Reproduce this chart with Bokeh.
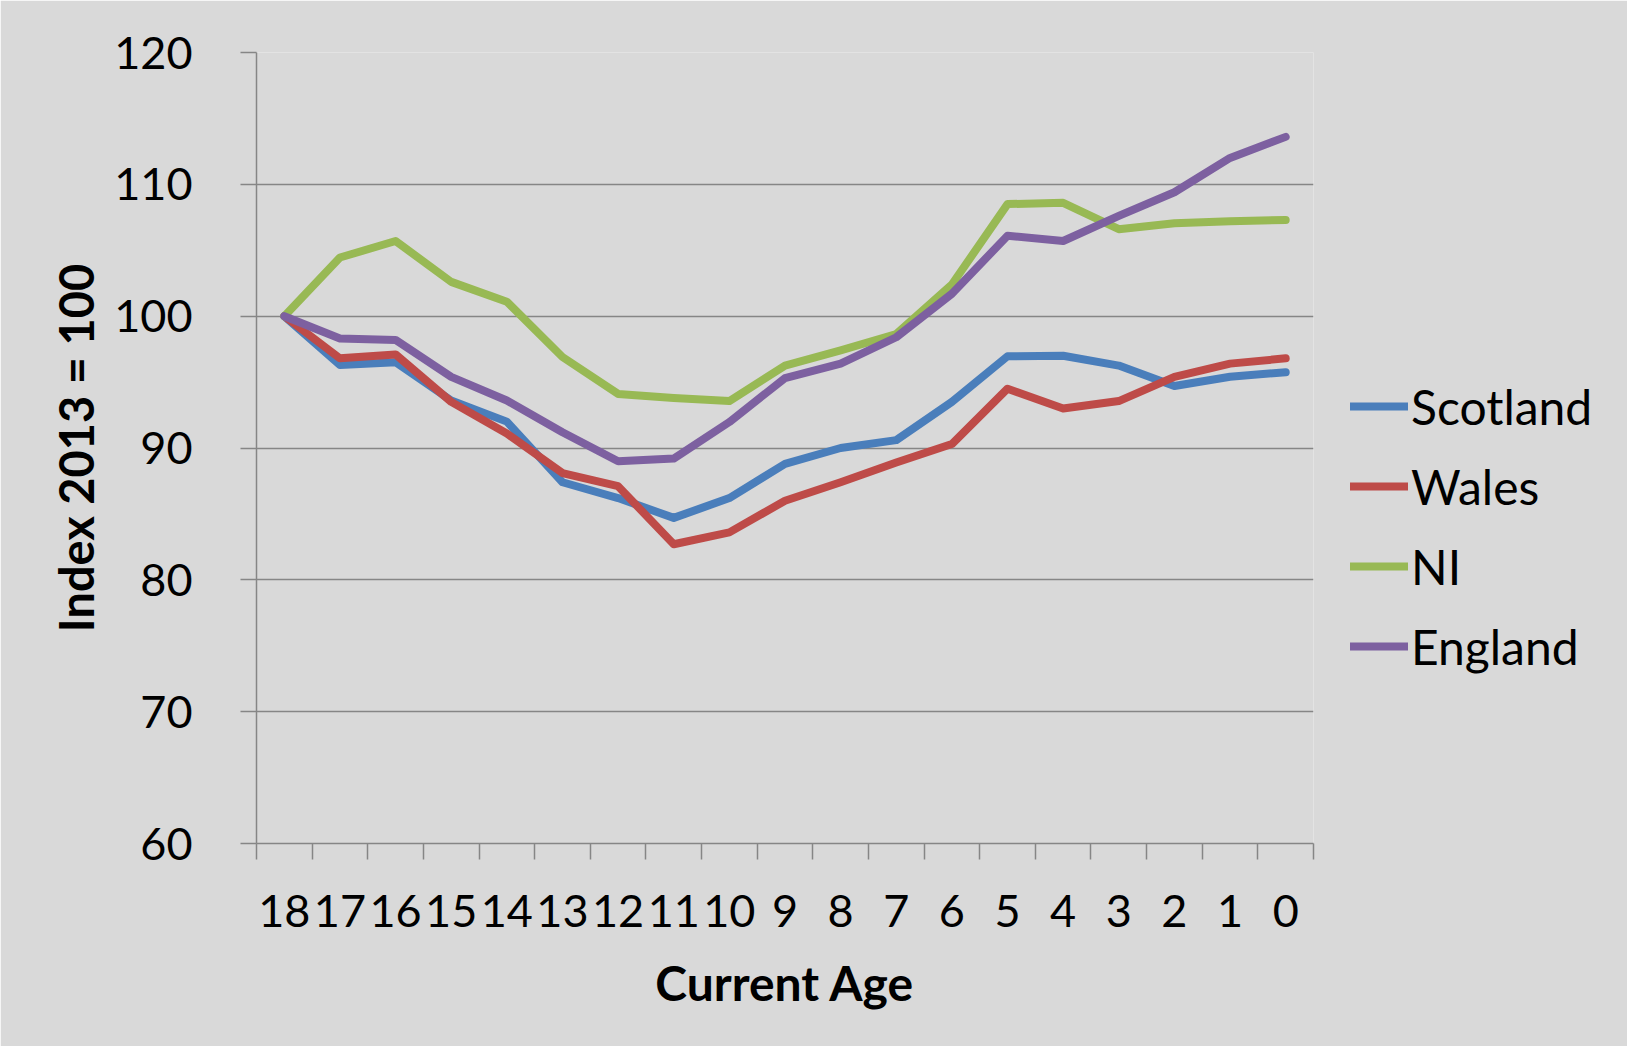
from bokeh.plotting import figure
from bokeh.models import Range1d, FixedTicker, Legend, LegendItem
from bokeh.embed import file_html
from bokeh.resources import INLINE

ages = [18, 17, 16, 15, 14, 13, 12, 11, 10, 9, 8, 7, 6, 5, 4, 3, 2, 1, 0]
scotland = [100.0, 96.3, 96.5, 93.6, 92.0, 87.4, 86.2, 84.7, 86.2, 88.8, 90.0, 90.6, 93.5, 96.96, 97.0, 96.25, 94.7, 95.4, 95.75]
wales = [100.0, 96.8, 97.1, 93.5, 91.1, 88.1, 87.1, 82.7, 83.6, 86.0, 87.4, 88.9, 90.3, 94.5, 93.0, 93.56, 95.4, 96.4, 96.8]
ni = [100.0, 104.45, 105.7, 102.6, 101.1, 96.9, 94.1, 93.8, 93.56, 96.25, 97.4, 98.65, 102.4, 108.5, 108.6, 106.6, 107.05, 107.2, 107.3]
england = [100.0, 98.3, 98.2, 95.4, 93.6, 91.2, 89.0, 89.2, 91.97, 95.3, 96.4, 98.4, 101.7, 106.1, 105.7, 107.6, 109.4, 112.0, 113.6]
series_names = ["Scotland", "Wales", "NI", "England"]
series_values = [scotland, wales, ni, england]
series_colors = ["#4a7ebb", "#be4b48", "#98b954", "#7d60a0"]
y_ticks = [60, 70, 80, 90, 100, 110, 120]

FONT = "Lato"
BG = "#d9d9d9"
GRID = "#868686"

p = figure(width=1627, height=1046, output_backend="svg", toolbar_location=None,
           x_range=Range1d(18.5, -0.5), y_range=Range1d(60, 120),
           frame_width=1057, frame_height=791,
           min_border_left=256, min_border_right=314, min_border_top=52, min_border_bottom=203)
p.background_fill_color = BG
p.border_fill_color = BG
p.outline_line_color = None

# x axis
p.xaxis.ticker = FixedTicker(ticks=ages, minor_ticks=[a + 0.5 for a in ages] + [-0.5])
p.xaxis.major_tick_out = 0
p.xaxis.major_tick_in = 0
p.xaxis.minor_tick_out = 16
p.xaxis.minor_tick_in = 0
p.xaxis.minor_tick_line_color = GRID
p.xaxis.minor_tick_line_width = 1.5
p.xaxis.axis_line_color = GRID
p.xaxis.axis_line_width = 1.5
p.xaxis.major_label_standoff = 35
p.xaxis.major_label_text_font = FONT
p.xaxis.major_label_text_font_size = "45px"
p.xaxis.major_label_text_color = "#000000"
p.xaxis.axis_label = "Current Age"
p.xaxis.axis_label_text_font = FONT
p.xaxis.axis_label_text_font_size = "48px"
p.xaxis.axis_label_text_font_style = "bold"
p.xaxis.axis_label_text_color = "#000000"
p.xaxis.axis_label_standoff = 24
p.xgrid.grid_line_color = None

# y axis
p.yaxis.ticker = FixedTicker(ticks=y_ticks)
p.yaxis.major_tick_out = 16
p.yaxis.major_tick_in = 0
p.yaxis.major_tick_line_color = GRID
p.yaxis.major_tick_line_width = 1.5
p.yaxis.minor_tick_line_color = None
p.yaxis.axis_line_color = GRID
p.yaxis.axis_line_width = 1.5
p.yaxis.major_label_standoff = 48
p.yaxis.major_label_text_font = FONT
p.yaxis.major_label_text_font_size = "45px"
p.yaxis.major_label_text_color = "#000000"
p.yaxis.axis_label = "Index 2013 = 100"
p.yaxis.axis_label_text_font = FONT
p.yaxis.axis_label_text_font_size = "47px"
p.yaxis.axis_label_text_font_style = "bold"
p.yaxis.axis_label_text_color = "#000000"
p.yaxis.axis_label_standoff = 7
p.ygrid.grid_line_color = GRID
p.ygrid.grid_line_width = 1.5

items = []
for name, vals, col in zip(series_names, series_values, series_colors):
    r = p.line(ages, vals, line_color=col, line_width=8, line_cap="round", line_join="round")
    items.append(LegendItem(label=name, renderers=[r]))

legend = Legend(items=items, location=(37, 157))
legend.background_fill_alpha = 0
legend.border_line_color = None
legend.padding = 0
legend.margin = 0
legend.spacing = 0
legend.glyph_width = 58
legend.glyph_height = 80
legend.label_height = 80
legend.label_standoff = 3
legend.label_text_font = FONT
legend.label_text_font_size = "48px"
legend.label_text_color = "#000000"
legend.label_text_baseline = "middle"
p.add_layout(legend, "right")

open("out.html", "w").write(file_html(p, INLINE))
